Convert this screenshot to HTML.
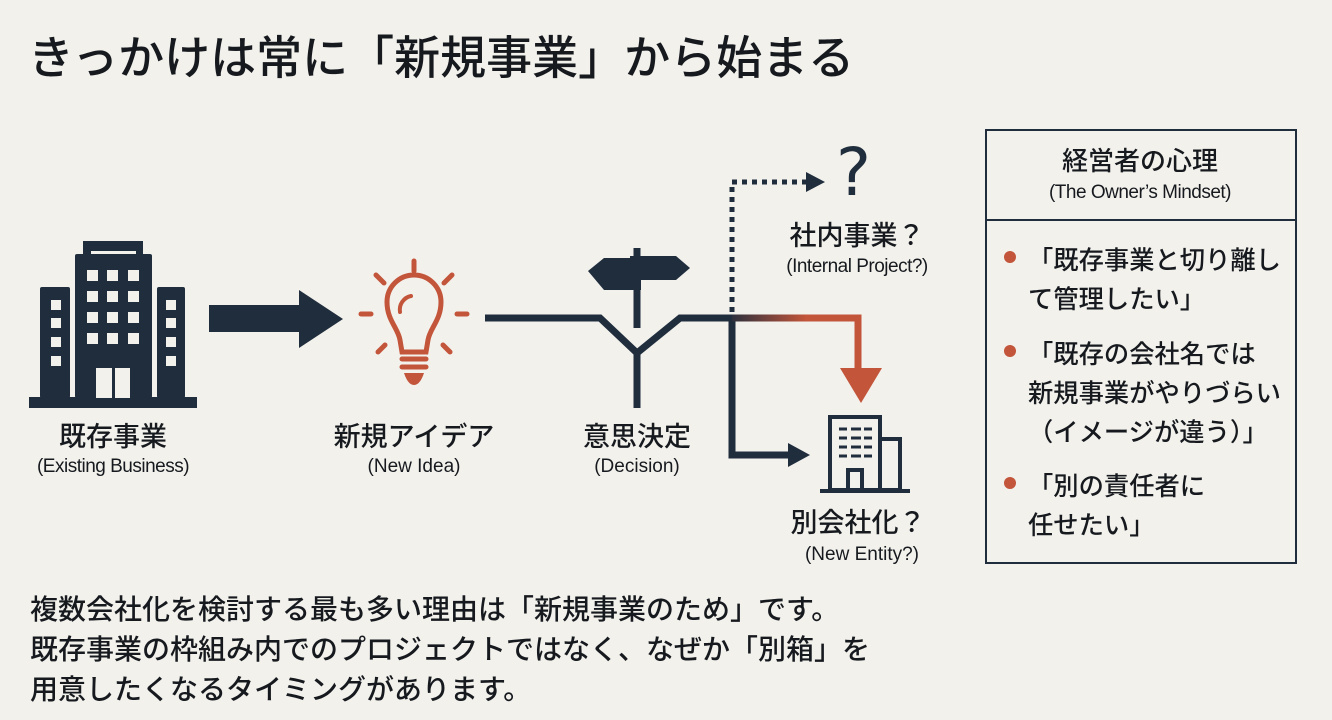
<!DOCTYPE html>
<html><head><meta charset="utf-8"><style>
body{margin:0;width:1332px;height:720px;background:#f3f1ec;overflow:hidden;position:relative;font-family:"Liberation Sans","Noto Sans CJK JP",sans-serif;color:#161a1f;font-weight:500}
.t{position:absolute;white-space:nowrap;line-height:1}
.c{transform:translateX(-50%);text-align:center}
svg{position:absolute;left:0;top:0}
</style></head><body>
<svg width="1332" height="720" viewBox="0 0 1332 720">
<defs><linearGradient id="g" x1="725" x2="860" y1="0" y2="0" gradientUnits="userSpaceOnUse"><stop offset="0" stop-color="#1f2d3d"/><stop offset="0.6" stop-color="#c2553a"/><stop offset="1" stop-color="#c2553a"/></linearGradient></defs>
<g fill="#1f2d3d">
<rect x="29" y="397" width="168" height="11"/>
<rect x="75" y="254" width="77" height="144" rx="2"/>
<rect x="83" y="241" width="60" height="14"/>
<rect x="40" y="287" width="30" height="111" rx="2"/>
<rect x="157" y="287" width="28" height="111" rx="2"/>
<rect x="209" y="305" width="92" height="27"/>
<polygon points="299,290 343,319 299,348"/>
</g>
<g fill="#f3f1ec">
<rect x="91" y="251" width="45" height="3"/>
<rect x="87" y="270" width="11" height="11"/><rect x="107" y="270" width="11" height="11"/><rect x="128" y="270" width="11" height="11"/>
<rect x="87" y="291" width="11" height="11"/><rect x="107" y="291" width="11" height="11"/><rect x="128" y="291" width="11" height="11"/>
<rect x="87" y="312" width="11" height="11"/><rect x="107" y="312" width="11" height="11"/><rect x="128" y="312" width="11" height="11"/>
<rect x="87" y="333" width="11" height="11"/><rect x="107" y="333" width="11" height="11"/><rect x="128" y="333" width="11" height="11"/>
<rect x="96" y="368" width="16" height="30"/><rect x="115" y="368" width="15" height="30"/>
<rect x="51" y="300" width="10" height="10"/><rect x="51" y="318" width="10" height="10"/><rect x="51" y="337" width="10" height="10"/><rect x="51" y="356" width="10" height="10"/>
<rect x="166" y="300" width="10" height="10"/><rect x="166" y="318" width="10" height="10"/><rect x="166" y="337" width="10" height="10"/><rect x="166" y="356" width="10" height="10"/>
</g>
<g stroke="#c2553a" stroke-width="5" fill="none" stroke-linecap="round">
<path d="M402,352 L400,340 C398,328 387,320 387,302 A27,27 0 1 1 441,302 C441,320 430,328 428,340 L426,352 Z"/>
<path d="M400,312 A14,14 0 0 1 411,296" stroke-width="4"/>
<line x1="414" y1="261" x2="414" y2="271"/>
<line x1="376" y1="275" x2="384" y2="283"/><line x1="452" y1="275" x2="444" y2="283"/>
<line x1="361" y1="314" x2="371" y2="314"/><line x1="457" y1="314" x2="467" y2="314"/>
<line x1="378" y1="352" x2="385" y2="345"/><line x1="450" y1="352" x2="443" y2="345"/>
<line x1="402" y1="359" x2="426" y2="359"/><line x1="402" y1="367" x2="426" y2="367"/>
</g>
<path d="M404,373 L424,373 Q420,385 414,385 Q408,385 404,373Z" fill="#c2553a"/>
<g stroke="#1f2d3d" stroke-width="7" fill="none">
<path d="M485,318 L600,318 L637,353 L680,318 L735,318"/>
<line x1="637" y1="350" x2="637" y2="408"/>
<line x1="637" y1="248" x2="637" y2="328"/>
<path d="M732,318 L732,455 L790,455"/>
</g>
<polygon points="588,271 604,258 641,258 641,290 604,290" fill="#1f2d3d"/>
<polygon points="630,256 676,256 690,268 676,280 630,280" fill="#1f2d3d"/>
<polygon points="788,443 810,455 788,467" fill="#1f2d3d"/>
<path d="M732,318 L858,318 L858,372" stroke="url(#g)" stroke-width="7" fill="none"/>
<polygon points="840,368 882,368 861,403" fill="#c2553a"/>
<path d="M732,312 L732,182 L808,182" stroke="#1f2d3d" stroke-width="5" stroke-dasharray="5,5" fill="none"/>
<polygon points="806,172 825,182 806,192" fill="#1f2d3d"/>
<g stroke="#1f2d3d" stroke-width="4" fill="none">
<rect x="830" y="417" width="50" height="73"/>
<rect x="880" y="439" width="20" height="51"/>
<rect x="848" y="470" width="14" height="20"/>
<line x1="820" y1="491" x2="910" y2="491"/>
</g>
<g stroke="#1f2d3d" stroke-width="3">
<line x1="839" y1="429" x2="847" y2="429"/><line x1="851" y1="429" x2="861" y2="429"/><line x1="864" y1="429" x2="872" y2="429"/>
<line x1="839" y1="438" x2="847" y2="438"/><line x1="851" y1="438" x2="861" y2="438"/><line x1="864" y1="438" x2="872" y2="438"/>
<line x1="839" y1="447" x2="847" y2="447"/><line x1="851" y1="447" x2="861" y2="447"/><line x1="864" y1="447" x2="872" y2="447"/>
<line x1="839" y1="456" x2="847" y2="456"/><line x1="851" y1="456" x2="861" y2="456"/><line x1="864" y1="456" x2="872" y2="456"/>
</g>
<rect x="986" y="130" width="310" height="433" fill="none" stroke="#1f2d3d" stroke-width="2"/>
<line x1="986" y1="220" x2="1296" y2="220" stroke="#1f2d3d" stroke-width="2"/>
<circle cx="1010" cy="257" r="6" fill="#c2553a"/><circle cx="1010" cy="351" r="6" fill="#c2553a"/><circle cx="1010" cy="483" r="6" fill="#c2553a"/>
</svg>
<div class="t" style="left:28px;top:35px;font-size:46px">きっかけは常に「新規事業」から始まる</div>
<div class="t" style="left:836px;top:140px;font-size:66px;color:#1f2d3d;font-family:'DejaVu Sans',sans-serif">?</div>

<div class="t c" style="left:113px;top:424px;font-size:27px">既存事業</div>
<div class="t c" style="left:113px;top:457px;font-size:19px;letter-spacing:-0.5px">(Existing Business)</div>
<div class="t c" style="left:414px;top:424px;font-size:27px">新規アイデア</div>
<div class="t c" style="left:414px;top:457px;font-size:19px">(New Idea)</div>
<div class="t c" style="left:637px;top:424px;font-size:27px">意思決定</div>
<div class="t c" style="left:637px;top:457px;font-size:19px">(Decision)</div>
<div class="t c" style="left:857px;top:223px;font-size:27px">社内事業？</div>
<div class="t c" style="left:857px;top:257px;font-size:19px;letter-spacing:-0.5px">(Internal Project?)</div>
<div class="t c" style="left:858px;top:510px;font-size:27px">別会社化？</div>
<div class="t c" style="left:862px;top:545px;font-size:19px">(New Entity?)</div>

<div class="t c" style="left:1140px;top:148px;font-size:26px">経営者の心理</div>
<div class="t c" style="left:1140px;top:183px;font-size:19px;letter-spacing:-0.5px">(The Owner’s Mindset)</div>
<div class="t" style="left:1028px;top:242px;font-size:25.3px;line-height:39px">「既存事業と切り離し<br>て管理したい」</div>
<div class="t" style="left:1028px;top:336px;font-size:25.3px;line-height:39px">「既存の会社名では<br>新規事業がやりづらい<br>（イメージが違う）」</div>
<div class="t" style="left:1028px;top:468px;font-size:25.3px;line-height:39px">「別の責任者に<br>任せたい」</div>

<div class="t" style="left:30px;top:590px;font-size:28px;line-height:40px">複数会社化を検討する最も多い理由は「新規事業のため」です。<br>既存事業の枠組み内でのプロジェクトではなく、なぜか「別箱」を<br>用意したくなるタイミングがあります。</div>
</body></html>
